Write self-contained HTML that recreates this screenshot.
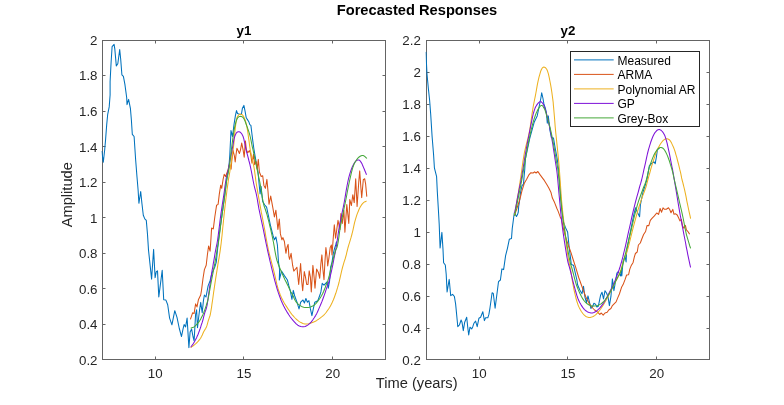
<!DOCTYPE html>
<html><head><meta charset="utf-8"><style>
html,body{margin:0;padding:0;background:#fff;width:784px;height:405px;overflow:hidden}
svg{display:block}
text{font-family:'Liberation Sans', Arial, Helvetica, sans-serif}
.tk{font-size:13.33px;fill:#262626}
.ttl{font-size:14.67px;font-weight:bold;fill:#000}
.st{font-size:13.33px;font-weight:bold;fill:#000}
.lbl{font-size:14.67px;fill:#262626}
.lg{font-size:12px;fill:#000}
</style></head><body>
<svg width="784" height="405" viewBox="0 0 784 405">
<defs><clipPath id="c1"><rect x="101.5" y="39.5" width="285.0" height="321.0"/></clipPath><clipPath id="c2"><rect x="425.5" y="39.5" width="285.0" height="321.0"/></clipPath></defs>
<rect x="102.5" y="40.5" width="283.0" height="319.0" fill="none" stroke="#646464" stroke-width="1"/>
<line x1="155.5" y1="359.5" x2="155.5" y2="356.5" stroke="#646464"/>
<line x1="155.5" y1="40.5" x2="155.5" y2="43.5" stroke="#646464"/>
<text x="155.25" y="378.3" text-anchor="middle" class="tk">10</text>
<line x1="243.5" y1="359.5" x2="243.5" y2="356.5" stroke="#646464"/>
<line x1="243.5" y1="40.5" x2="243.5" y2="43.5" stroke="#646464"/>
<text x="244.00" y="378.3" text-anchor="middle" class="tk">15</text>
<line x1="332.5" y1="359.5" x2="332.5" y2="356.5" stroke="#646464"/>
<line x1="332.5" y1="40.5" x2="332.5" y2="43.5" stroke="#646464"/>
<text x="332.75" y="378.3" text-anchor="middle" class="tk">20</text>
<line x1="102.5" y1="359.5" x2="105.5" y2="359.5" stroke="#646464"/>
<line x1="385.5" y1="359.5" x2="382.5" y2="359.5" stroke="#646464"/>
<text x="97.5" y="364.8" text-anchor="end" class="tk">0.2</text>
<line x1="102.5" y1="324.5" x2="105.5" y2="324.5" stroke="#646464"/>
<line x1="385.5" y1="324.5" x2="382.5" y2="324.5" stroke="#646464"/>
<text x="97.5" y="329.2" text-anchor="end" class="tk">0.4</text>
<line x1="102.5" y1="288.5" x2="105.5" y2="288.5" stroke="#646464"/>
<line x1="385.5" y1="288.5" x2="382.5" y2="288.5" stroke="#646464"/>
<text x="97.5" y="293.7" text-anchor="end" class="tk">0.6</text>
<line x1="102.5" y1="253.5" x2="105.5" y2="253.5" stroke="#646464"/>
<line x1="385.5" y1="253.5" x2="382.5" y2="253.5" stroke="#646464"/>
<text x="97.5" y="258.1" text-anchor="end" class="tk">0.8</text>
<line x1="102.5" y1="217.5" x2="105.5" y2="217.5" stroke="#646464"/>
<line x1="385.5" y1="217.5" x2="382.5" y2="217.5" stroke="#646464"/>
<text x="97.5" y="222.6" text-anchor="end" class="tk">1</text>
<line x1="102.5" y1="182.5" x2="105.5" y2="182.5" stroke="#646464"/>
<line x1="385.5" y1="182.5" x2="382.5" y2="182.5" stroke="#646464"/>
<text x="97.5" y="187.0" text-anchor="end" class="tk">1.2</text>
<line x1="102.5" y1="146.5" x2="105.5" y2="146.5" stroke="#646464"/>
<line x1="385.5" y1="146.5" x2="382.5" y2="146.5" stroke="#646464"/>
<text x="97.5" y="151.5" text-anchor="end" class="tk">1.4</text>
<line x1="102.5" y1="111.5" x2="105.5" y2="111.5" stroke="#646464"/>
<line x1="385.5" y1="111.5" x2="382.5" y2="111.5" stroke="#646464"/>
<text x="97.5" y="115.9" text-anchor="end" class="tk">1.6</text>
<line x1="102.5" y1="75.5" x2="105.5" y2="75.5" stroke="#646464"/>
<line x1="385.5" y1="75.5" x2="382.5" y2="75.5" stroke="#646464"/>
<text x="97.5" y="80.4" text-anchor="end" class="tk">1.8</text>
<line x1="102.5" y1="40.5" x2="105.5" y2="40.5" stroke="#646464"/>
<line x1="385.5" y1="40.5" x2="382.5" y2="40.5" stroke="#646464"/>
<text x="97.5" y="44.8" text-anchor="end" class="tk">2</text>
<rect x="426.5" y="40.5" width="283.0" height="319.0" fill="none" stroke="#646464" stroke-width="1"/>
<line x1="479.5" y1="359.5" x2="479.5" y2="356.5" stroke="#646464"/>
<line x1="479.5" y1="40.5" x2="479.5" y2="43.5" stroke="#646464"/>
<text x="479.25" y="378.3" text-anchor="middle" class="tk">10</text>
<line x1="567.5" y1="359.5" x2="567.5" y2="356.5" stroke="#646464"/>
<line x1="567.5" y1="40.5" x2="567.5" y2="43.5" stroke="#646464"/>
<text x="568.00" y="378.3" text-anchor="middle" class="tk">15</text>
<line x1="656.5" y1="359.5" x2="656.5" y2="356.5" stroke="#646464"/>
<line x1="656.5" y1="40.5" x2="656.5" y2="43.5" stroke="#646464"/>
<text x="656.75" y="378.3" text-anchor="middle" class="tk">20</text>
<line x1="426.5" y1="359.5" x2="429.5" y2="359.5" stroke="#646464"/>
<line x1="709.5" y1="359.5" x2="706.5" y2="359.5" stroke="#646464"/>
<text x="420.8" y="364.8" text-anchor="end" class="tk">0.2</text>
<line x1="426.5" y1="328.5" x2="429.5" y2="328.5" stroke="#646464"/>
<line x1="709.5" y1="328.5" x2="706.5" y2="328.5" stroke="#646464"/>
<text x="420.8" y="332.8" text-anchor="end" class="tk">0.4</text>
<line x1="426.5" y1="296.5" x2="429.5" y2="296.5" stroke="#646464"/>
<line x1="709.5" y1="296.5" x2="706.5" y2="296.5" stroke="#646464"/>
<text x="420.8" y="300.8" text-anchor="end" class="tk">0.6</text>
<line x1="426.5" y1="264.5" x2="429.5" y2="264.5" stroke="#646464"/>
<line x1="709.5" y1="264.5" x2="706.5" y2="264.5" stroke="#646464"/>
<text x="420.8" y="268.8" text-anchor="end" class="tk">0.8</text>
<line x1="426.5" y1="232.5" x2="429.5" y2="232.5" stroke="#646464"/>
<line x1="709.5" y1="232.5" x2="706.5" y2="232.5" stroke="#646464"/>
<text x="420.8" y="236.8" text-anchor="end" class="tk">1</text>
<line x1="426.5" y1="200.5" x2="429.5" y2="200.5" stroke="#646464"/>
<line x1="709.5" y1="200.5" x2="706.5" y2="200.5" stroke="#646464"/>
<text x="420.8" y="204.8" text-anchor="end" class="tk">1.2</text>
<line x1="426.5" y1="168.5" x2="429.5" y2="168.5" stroke="#646464"/>
<line x1="709.5" y1="168.5" x2="706.5" y2="168.5" stroke="#646464"/>
<text x="420.8" y="172.8" text-anchor="end" class="tk">1.4</text>
<line x1="426.5" y1="136.5" x2="429.5" y2="136.5" stroke="#646464"/>
<line x1="709.5" y1="136.5" x2="706.5" y2="136.5" stroke="#646464"/>
<text x="420.8" y="140.8" text-anchor="end" class="tk">1.6</text>
<line x1="426.5" y1="104.5" x2="429.5" y2="104.5" stroke="#646464"/>
<line x1="709.5" y1="104.5" x2="706.5" y2="104.5" stroke="#646464"/>
<text x="420.8" y="108.8" text-anchor="end" class="tk">1.8</text>
<line x1="426.5" y1="72.5" x2="429.5" y2="72.5" stroke="#646464"/>
<line x1="709.5" y1="72.5" x2="706.5" y2="72.5" stroke="#646464"/>
<text x="420.8" y="76.8" text-anchor="end" class="tk">2</text>
<line x1="426.5" y1="40.5" x2="429.5" y2="40.5" stroke="#646464"/>
<line x1="709.5" y1="40.5" x2="706.5" y2="40.5" stroke="#646464"/>
<text x="420.8" y="44.8" text-anchor="end" class="tk">2.2</text>
<polyline points="101.8,151.0 103.3,162.2 104.7,149.8 105.6,139.4 106.7,124.6 107.7,114.3 109.2,106.9 110.1,95.0 110.1,81.5 111.1,62.2 112.1,46.7 114.1,44.4 114.8,48.9 116.3,65.9 117.8,63.7 119.7,49.6 120.7,59.3 121.9,74.8 123.4,76.3 124.9,84.4 126.7,97.8 127.0,104.6 128.6,99.4 130.4,108.3 131.4,120.2 132.3,134.3 134.1,136.5 135.6,159.3 137.0,177.0 138.1,190.0 138.9,203.3 140.7,191.5 141.9,203.3 143.3,215.2 144.8,218.9 146.3,220.4 147.5,234.4 148.5,250.0 151.6,279.1 153.6,249.4 155.1,277.6 156.3,271.7 157.5,270.9 158.8,296.9 162.2,270.2 163.7,299.8 165.9,300.1 167.7,304.8 169.6,318.1 171.9,324.8 174.8,310.7 177.0,317.4 179.3,328.5 181.5,336.5 183.0,329.1 184.1,324.6 185.6,326.9 187.1,318.0 188.9,347.6 190.1,332.0 191.6,329.1 193.0,336.5 194.1,340.9 195.6,314.3 196.6,309.8 197.5,327.6 198.5,318.7 199.6,309.8 200.7,302.4 202.2,312.8 203.4,300.9 204.4,295.0 206.0,297.0 208.1,285.9 210.0,281.0 212.0,273.0 214.8,267.0 216.3,262.2 218.5,240.0 221.9,215.6 224.8,195.0 226.7,180.0 228.9,167.0 229.8,155.0 231.0,130.6 232.5,136.5 234.0,124.6 235.4,115.7 236.5,110.6 237.5,113.5 239.4,114.3 241.4,114.3 242.4,108.3 243.9,105.4 245.1,111.3 246.1,117.2 247.3,119.4 248.8,121.7 249.8,124.6 250.9,125.4 251.7,132.0 252.8,140.9 253.8,148.3 255.0,155.7 258.0,172.0 259.2,185.0 260.1,193.9 261.1,186.5 262.6,201.3 264.8,205.0 266.6,207.2 268.5,216.1 270.7,226.5 273.0,235.4 274.4,239.8 275.9,236.9 277.4,245.0 278.5,262.2 279.6,269.6 279.3,280.0 281.5,271.1 284.4,275.6 287.4,280.0 288.9,285.9 290.4,291.1 291.9,299.3 293.3,290.4 294.8,296.3 297.0,302.2 299.0,308.9 300.7,302.2 303.0,300.0 304.4,303.0 305.9,298.5 307.4,302.2 308.9,300.7 310.4,308.9 311.9,315.6 313.3,308.9 314.8,302.2 317.8,300.7 320.0,294.8 320.9,291.9 322.2,283.3 324.0,285.1 325.6,283.3 327.1,282.0 328.3,288.2 329.6,280.8 330.6,267.2 332.0,262.3 333.3,253.6 334.5,248.7 335.7,245.0 336.6,241.5" fill="none" stroke="#0072BD" stroke-width="1.05" stroke-linejoin="round" clip-path="url(#c1)"/>
<polyline points="425.9,51.9 427.0,74.0 428.4,88.9 429.6,100.0 430.7,114.3 432.1,136.5 433.6,155.0 434.4,167.8 436.6,176.7 437.3,191.5 438.4,210.0 439.2,224.3 440.1,248.0 441.9,232.4 443.0,249.4 443.6,262.8 445.3,265.0 446.2,274.3 447.1,292.0 449.2,279.4 450.7,295.7 452.6,294.3 454.4,296.5 455.6,303.9 456.1,308.9 457.8,326.7 459.4,325.0 461.1,320.0 462.0,322.2 463.3,330.6 464.7,322.2 466.7,317.2 467.8,327.8 468.7,335.0 470.0,327.2 471.7,328.9 472.8,326.7 473.9,323.3 475.6,321.1 477.2,326.7 478.9,318.3 480.6,317.2 482.8,311.7 484.4,320.6 485.6,317.8 487.8,317.8 488.9,314.4 490.0,307.8 491.1,300.0 492.1,292.8 493.3,293.5 495.1,308.3 497.0,293.5 498.5,281.7 500.4,280.0 501.9,268.9 503.6,269.6 505.6,255.6 507.5,248.1 509.3,239.3 511.5,238.5 512.2,228.9 512.8,224.3 514.3,212.8 516.5,216.5 517.6,214.3 518.3,212.0 518.7,206.1 519.1,204.1 520.6,192.2 522.0,185.6 523.5,184.1 524.0,177.4 524.7,170.0 525.4,158.9 529.8,138.1 534.3,121.9 537.2,115.9 539.4,105.4 540.9,98.0 541.7,92.8 542.9,98.0 543.9,103.9 545.4,108.3 546.4,113.0 547.3,123.3 548.3,115.9 549.8,129.3 551.3,137.4 553.5,138.1 555.0,147.0 557.2,158.9 558.7,170.0 559.5,180.0 561.0,200.0 562.5,215.0 563.5,222.0 565.4,227.4 567.6,231.9 569.1,246.7 571.3,264.4 573.5,265.2 575.7,274.8 576.9,280.0 577.6,284.8 579.8,290.0 582.0,293.7 583.5,286.3 585.0,297.4 586.5,302.6 588.0,295.9 589.4,301.9 590.9,308.5 592.4,307.0 593.9,303.3 595.4,304.1 596.9,307.0 598.3,306.3 600.6,295.2 602.0,292.2 603.5,298.9 605.0,290.7 606.5,293.0 608.0,296.7 609.4,305.6 610.9,296.7 612.4,278.9 613.9,290.7 615.4,281.9 616.9,273.0 618.3,271.5 620.6,275.9 621.3,270.0 621.8,276.0 623.0,262.0 625.0,256.0 626.1,262.0 626.6,252.0 629.3,237.4 633.7,215.2 635.5,207.8 637.4,212.2 639.6,216.7 640.4,204.8 643.0,192.0 645.0,186.0 647.0,179.3 649.3,165.9 651.5,163.7 653.7,161.5 655.2,163.7 656.4,157.0 657.4,149.6 659.5,148.0" fill="none" stroke="#0072BD" stroke-width="1.05" stroke-linejoin="round" clip-path="url(#c2)"/>
<polyline points="190.4,319.4 192.6,312.8 194.1,313.5 195.6,303.9 197.0,306.9 198.5,299.4 200.7,295.0 201.5,290.4 203.0,278.5 204.4,269.6 206.2,265.2 207.4,254.8 208.6,246.0 210.1,251.1 211.0,238.0 211.6,228.1 213.3,228.9 214.8,217.0 216.6,205.2 218.1,204.4 219.3,194.1 220.7,185.2 221.7,188.3 223.1,179.4 224.2,174.3 225.6,176.5 228.2,169.5 229.6,163.9 231.1,169.1 231.9,159.4 233.1,150.5 234.4,156.0 235.2,162.0 235.9,155.7 236.9,148.3 238.4,151.3 239.4,153.5 240.5,149.8 241.7,143.1 243.1,149.8 244.2,157.2 245.4,140.9 246.4,149.8 247.6,152.8 249.4,150.6 250.6,153.5 252.0,163.1 253.5,154.3 254.7,164.6 256.2,161.7 257.2,169.1 258.3,159.4 259.4,172.0 261.2,176.5 262.7,175.7 263.9,185.4 265.4,188.3 266.9,179.4 268.0,191.3 269.0,204.3 270.7,196.1 273.0,208.7 274.4,216.9 275.9,210.2 277.9,229.4 279.3,219.1 280.4,233.9 281.9,239.8 282.9,237.6 284.4,241.5 285.9,253.3 287.0,247.4 288.1,244.4 288.9,256.3 289.6,259.3 291.1,253.3 292.6,265.2 293.8,271.1 295.0,269.7 296.9,267.2 298.7,284.5 300.6,263.5 301.8,282.0 302.7,290.7 304.3,271.5 305.5,277.1 306.7,284.5 308.0,284.5 309.2,270.9 310.4,277.1 311.3,291.9 312.9,265.4 314.1,277.1 315.0,288.2 316.6,269.1 318.5,272.8 319.7,278.3 320.9,263.5 321.9,254.9 322.8,268.5 324.0,279.6 324.9,262.3 325.9,247.5 327.1,257.3 327.7,266.0 329.0,257.3 330.2,247.5 331.4,245.0 332.0,254.9 333.1,240.0 334.3,224.7 335.6,238.3 338.0,220.3 339.9,229.6 340.9,213.5 342.3,223.4 343.9,210.5 344.9,232.3 346.8,204.6 348.8,223.4 349.8,199.6 351.4,205.5 352.8,194.7 354.2,202.6 355.7,178.8 357.1,206.5 358.7,182.8 359.7,170.9 360.9,187.7 361.7,197.6 363.3,179.8 364.7,178.8 365.6,183.8 366.8,196.6" fill="none" stroke="#D95319" stroke-width="1.05" stroke-linejoin="round" clip-path="url(#c1)"/>
<polyline points="514.3,215.7 516.9,208.5 519.8,199.6 522.0,190.7 524.3,183.3 526.5,179.6 528.7,175.2 530.9,172.7 533.1,173.0 534.6,171.8 536.1,173.0 537.9,171.5 539.8,174.4 542.0,177.4 544.3,180.4 546.5,184.1 548.7,187.8 550.9,192.2 552.4,198.1 554.6,202.6 556.9,208.5 558.0,210.9 560.2,216.9 561.7,220.0 563.2,228.0 565.4,236.3 568.3,245.2 571.0,252.6 572.8,258.5 575.7,267.4 578.7,277.5 581.3,284.8 583.5,290.7 585.7,296.7 588.7,302.6 591.7,307.0 594.6,310.0 597.6,312.2 599.8,314.4 601.3,313.0 603.2,315.2 605.0,313.0 607.2,312.2 608.7,310.0 610.9,308.5 612.4,305.6 614.6,303.3 616.1,301.9 617.6,298.1 619.4,294.0 621.7,286.9 623.1,284.6 625.1,279.4 626.6,275.0 628.6,274.7 629.8,269.1 631.3,265.4 633.1,262.4 634.3,257.2 635.4,253.5 637.2,252.0 638.4,245.0 640.3,243.0 641.8,239.0 643.6,234.5 645.6,231.5 647.0,225.6 648.8,225.6 650.3,220.4 652.2,218.1 654.4,215.9 656.7,213.0 658.6,214.4 660.1,208.5 661.6,212.2 663.0,207.8 664.5,209.3 666.3,209.3 668.5,207.8 669.8,209.8 671.0,212.8 672.8,209.4 674.0,214.3 675.7,213.8 677.2,215.0 678.7,218.0 679.9,220.9 681.4,219.4 682.4,225.4 683.9,228.3 685.4,225.4 686.4,229.8 688.3,232.0 689.6,234.2" fill="none" stroke="#D95319" stroke-width="1.05" stroke-linejoin="round" clip-path="url(#c2)"/>
<polyline points="190.7,347.6 191.6,346.9 192.9,346.0 194.4,344.9 195.8,343.7 197.1,342.5 198.3,341.1 199.5,339.7 200.6,338.2 201.5,336.6 202.3,335.0 203.0,333.3 203.7,331.8 204.4,330.5 205.1,329.4 205.8,328.3 206.4,327.0 207.0,325.4 207.5,323.6 208.0,321.7 208.5,320.0 209.0,318.6 209.4,317.4 209.9,316.0 210.4,314.0 210.9,311.1 211.5,307.6 212.0,303.8 212.6,300.0 213.1,296.3 213.6,292.5 214.2,288.6 214.8,284.4 215.5,279.7 216.3,274.7 217.1,269.7 217.8,265.2 218.4,261.4 219.0,258.1 219.5,255.0 220.0,251.9 220.4,249.1 220.7,246.6 221.1,243.8 221.5,240.0 222.1,234.7 222.7,228.3 223.4,221.7 224.0,215.6 224.6,210.1 225.2,204.7 225.8,199.7 226.4,195.0 226.9,190.7 227.5,186.7 228.0,183.1 228.4,180.0 228.7,177.9 229.0,176.6 229.3,175.0 229.8,172.0 230.6,166.6 231.7,159.6 232.7,152.5 233.5,146.9 233.9,143.5 234.0,141.5 234.1,139.7 234.3,137.0 234.8,132.9 235.3,127.9 235.9,123.1 236.5,119.5 237.1,117.4 237.6,116.2 238.2,115.6 238.7,115.0 239.2,114.5 239.8,114.3 240.3,114.2 240.9,114.3 241.4,114.4 242.0,114.6 242.5,115.0 243.1,115.7 243.7,116.7 244.3,117.9 244.9,119.3 245.4,120.9 245.9,122.7 246.4,124.7 246.9,126.8 247.3,129.1 247.7,131.5 248.1,134.1 248.4,136.8 248.8,139.4 249.2,142.1 249.5,144.8 249.9,147.5 250.3,150.0 250.7,152.1 251.1,154.0 251.5,155.8 252.0,158.0 252.5,160.4 253.1,163.1 253.7,165.9 254.3,169.1 254.8,172.6 255.3,176.4 255.8,180.5 256.5,185.0 257.4,190.2 258.4,195.9 259.4,201.7 260.4,207.2 261.3,212.2 262.3,217.1 263.2,221.8 264.1,226.5 265.0,231.4 265.8,236.3 266.7,241.0 267.4,245.0 268.0,247.9 268.4,249.9 268.9,252.0 269.6,254.8 270.6,258.7 271.8,263.3 273.1,268.1 274.2,272.6 275.2,276.8 276.1,280.9 277.0,284.9 278.0,288.5 279.1,291.8 280.3,294.9 281.5,297.7 282.8,300.3 284.1,302.7 285.4,304.9 286.7,306.9 288.0,308.9 289.3,310.8 290.5,312.6 291.8,314.3 293.2,315.9 294.6,317.5 296.1,319.0 297.7,320.4 299.3,321.6 301.0,322.6 302.9,323.4 304.8,323.9 306.7,324.1 308.8,323.8 311.0,323.1 313.1,322.2 314.9,321.4 316.4,320.7 317.5,319.9 318.6,319.2 319.8,318.3 321.0,317.4 322.3,316.4 323.6,315.3 324.8,314.0 326.1,312.5 327.3,310.8 328.6,309.0 329.7,307.2 330.7,305.4 331.7,303.6 332.5,301.8 333.4,299.8 334.2,297.7 335.0,295.5 335.8,293.3 336.5,291.1 337.1,289.1 337.7,287.2 338.3,285.1 339.0,282.5 339.8,279.1 340.7,275.1 341.6,271.1 342.5,267.5 343.4,264.4 344.2,261.6 345.1,259.0 345.8,256.5 346.4,254.3 346.8,252.4 347.3,250.5 347.9,248.0 348.8,244.9 349.9,241.4 351.0,237.7 352.0,234.0 352.9,230.3 353.7,226.6 354.5,222.9 355.4,219.6 356.3,216.6 357.2,213.9 358.2,211.5 359.1,209.3 360.0,207.4 361.0,205.8 361.9,204.4 362.8,203.3 363.8,202.4 364.9,201.8 365.8,201.4 366.5,201.1" fill="none" stroke="#EDB120" stroke-width="1.05" stroke-linejoin="round" clip-path="url(#c1)"/>
<polyline points="514.3,215.7 515.0,212.0 515.9,206.8 517.0,200.8 518.0,195.0 518.9,189.3 519.8,183.5 520.7,177.6 521.5,172.0 522.2,166.7 522.9,161.7 523.7,156.8 524.5,152.0 525.6,147.3 526.8,142.7 528.0,138.2 529.0,133.7 529.9,129.0 530.6,124.3 531.2,119.8 531.8,115.9 532.2,112.9 532.6,110.6 532.9,108.5 533.3,106.0 533.9,103.1 534.5,100.0 535.2,96.7 535.8,93.5 536.4,90.2 537.0,86.7 537.6,83.3 538.3,80.2 539.0,77.2 539.8,74.3 540.5,71.8 541.3,69.8 542.0,68.4 542.8,67.5 543.5,67.1 544.3,67.1 545.1,67.5 545.9,68.2 546.8,69.4 547.6,71.3 548.4,73.9 549.2,77.3 549.9,81.0 550.6,84.6 551.2,88.2 551.8,92.0 552.3,95.8 552.8,99.4 553.2,102.5 553.4,105.4 553.7,108.4 554.0,112.0 554.4,116.5 554.8,121.5 555.2,126.8 555.7,132.2 556.3,137.8 556.9,143.6 557.5,149.3 558.0,154.4 558.4,158.4 558.7,161.6 559.0,165.1 559.4,170.0 559.9,177.1 560.5,185.5 561.1,194.2 561.7,202.0 562.3,208.2 562.9,213.7 563.5,219.0 564.2,225.0 565.0,232.1 565.9,239.9 566.7,247.5 567.6,254.1 568.4,259.3 569.3,263.5 570.1,267.4 570.9,271.5 571.6,276.0 572.3,280.5 573.1,284.9 573.9,289.3 574.9,293.6 575.9,298.0 577.1,302.0 578.3,305.6 579.7,308.6 581.2,311.3 582.8,313.5 584.3,315.2 585.8,316.4 587.3,317.1 588.7,317.4 590.2,317.4 591.7,317.1 593.2,316.5 594.6,315.6 596.1,314.4 597.6,312.9 599.0,311.2 600.5,309.2 602.0,307.0 603.5,304.7 605.0,302.1 606.5,299.5 608.0,296.7 609.5,293.8 611.0,290.8 612.4,287.8 613.9,284.8 615.4,281.8 617.0,278.9 618.5,276.0 619.8,273.0 620.9,270.0 621.8,266.9 622.6,263.9 623.5,261.0 624.4,258.5 625.3,256.3 626.3,253.7 627.5,250.0 628.9,244.8 630.5,238.4 632.1,231.8 633.7,225.6 635.2,220.1 636.7,214.7 638.1,209.6 639.6,204.8 641.2,200.1 642.8,195.6 644.4,191.5 645.6,188.0 646.4,185.6 646.8,183.9 647.2,182.3 647.8,180.0 648.7,176.6 649.9,172.5 651.0,168.3 652.2,164.4 653.3,160.8 654.5,157.3 655.6,154.0 656.7,151.1 657.8,148.6 659.0,146.4 660.1,144.6 661.1,143.0 662.1,141.7 663.0,140.7 663.9,139.9 664.8,139.3 665.6,138.9 666.3,138.8 667.1,138.8 667.8,139.0 668.5,139.3 669.2,139.7 669.9,140.4 670.7,141.5 671.6,143.1 672.5,145.1 673.5,147.3 674.4,149.6 675.2,152.0 675.9,154.6 676.7,157.2 677.4,160.0 678.2,163.0 679.0,166.1 679.7,169.2 680.4,171.9 680.9,174.2 681.3,176.1 681.6,177.9 682.1,180.0 682.7,182.2 683.3,184.5 683.9,187.0 684.6,189.8 685.3,193.2 686.1,196.9 686.8,200.8 687.6,204.6 688.4,208.5 689.3,212.6 690.1,216.2 690.6,218.7" fill="none" stroke="#EDB120" stroke-width="1.05" stroke-linejoin="round" clip-path="url(#c2)"/>
<polyline points="190.7,347.2 191.4,346.3 192.3,345.0 193.4,343.6 194.3,342.1 195.1,340.6 195.9,339.0 196.7,337.4 197.4,335.8 198.1,334.2 198.7,332.6 199.3,331.0 199.8,329.5 200.3,328.2 200.7,327.0 201.0,325.9 201.4,324.7 201.8,323.5 202.2,322.4 202.5,321.3 202.9,320.0 203.3,318.6 203.6,317.1 204.0,315.6 204.4,314.0 204.9,312.3 205.6,310.6 206.2,308.8 206.7,306.9 207.1,305.1 207.4,303.3 207.7,301.1 208.1,298.0 208.8,293.4 209.5,287.8 210.4,282.0 211.1,277.0 211.7,273.1 212.2,269.9 212.8,266.8 213.3,263.7 213.9,260.3 214.5,256.9 215.0,253.5 215.6,250.4 216.1,247.9 216.5,245.9 217.0,243.5 217.6,240.0 218.3,234.8 219.1,228.4 219.9,221.8 220.7,215.6 221.5,210.1 222.3,204.7 223.1,199.7 223.8,195.0 224.4,190.8 224.9,186.9 225.4,183.3 225.9,180.0 226.4,177.2 227.0,175.0 227.6,172.5 228.3,169.1 229.3,164.1 230.5,157.9 231.7,151.9 232.6,147.0 233.2,143.7 233.6,141.4 233.9,139.7 234.3,138.0 234.8,136.3 235.4,134.9 235.9,133.7 236.5,132.8 237.1,132.2 237.6,131.9 238.2,131.7 238.7,131.7 239.2,131.8 239.8,132.0 240.3,132.3 240.9,132.8 241.5,133.5 242.0,134.3 242.6,135.4 243.1,136.5 243.5,137.8 243.9,139.2 244.2,140.8 244.6,142.4 245.0,144.1 245.3,145.9 245.7,147.8 246.1,149.8 246.6,152.0 247.3,154.3 247.9,156.7 248.5,159.0 249.0,161.0 249.5,162.8 250.0,164.8 250.6,167.6 251.4,171.5 252.3,176.2 253.2,181.0 254.0,185.0 254.7,187.9 255.3,190.2 255.9,192.4 256.5,195.0 257.1,198.0 257.6,201.2 258.2,204.7 258.9,208.7 259.9,213.5 261.1,219.1 262.3,224.6 263.3,229.4 264.1,233.3 264.8,236.8 265.4,239.9 266.0,243.0 266.7,246.1 267.3,249.0 267.9,251.8 268.6,254.8 269.3,257.8 269.9,260.7 270.7,263.8 271.5,267.3 272.5,271.3 273.6,275.8 274.7,280.4 275.9,284.7 277.1,288.8 278.4,292.9 279.8,296.8 281.1,300.3 282.4,303.3 283.7,306.0 285.0,308.4 286.3,310.7 287.6,312.9 288.8,314.8 290.1,316.7 291.5,318.5 293.0,320.4 294.6,322.2 296.2,323.9 297.8,325.2 299.3,326.0 300.8,326.6 302.2,326.8 303.7,326.7 305.2,326.4 306.6,325.8 308.1,324.9 309.6,323.7 311.1,322.1 312.7,320.0 314.2,317.8 315.6,315.6 316.8,313.4 317.8,311.2 318.8,308.9 319.8,306.6 320.8,304.3 321.8,301.9 322.7,299.5 323.5,297.3 324.2,295.3 324.8,293.6 325.4,291.8 326.0,289.9 326.7,287.9 327.5,285.9 328.2,283.8 329.0,281.3 329.8,278.4 330.5,275.1 331.3,271.8 332.0,268.5 332.7,265.3 333.3,262.1 333.9,258.9 334.5,256.0 335.0,253.6 335.4,251.6 335.8,249.3 336.4,246.0 337.1,241.4 337.9,235.8 338.8,229.9 339.8,224.1 340.9,218.5 342.1,212.7 343.3,207.2 344.3,202.0 345.1,197.3 345.8,192.9 346.5,188.8 347.2,185.0 347.9,181.5 348.6,178.3 349.4,175.3 350.2,172.6 351.1,170.0 352.0,167.6 353.0,165.5 353.9,163.7 354.8,162.3 355.8,161.2 356.7,160.4 357.6,160.0 358.4,159.9 359.2,160.1 359.9,160.7 360.6,161.5 361.3,162.6 362.1,164.1 362.8,165.7 363.5,167.4 364.3,169.3 365.2,171.5 366.0,173.4 366.5,174.8" fill="none" stroke="#7E12D8" stroke-width="1.05" stroke-linejoin="round" clip-path="url(#c1)"/>
<polyline points="514.6,213.0 515.3,209.4 516.3,204.3 517.3,198.7 518.3,193.7 519.1,189.5 519.9,185.6 520.7,182.1 521.3,178.9 521.7,176.5 522.0,174.8 522.3,172.9 522.8,170.0 523.5,165.8 524.3,160.7 525.2,155.2 526.1,150.0 527.0,145.1 527.9,140.2 528.9,135.4 529.8,130.7 530.7,125.9 531.7,121.1 532.6,116.7 533.5,113.0 534.3,110.3 535.0,108.3 535.7,106.8 536.5,105.4 537.4,104.1 538.4,102.9 539.3,102.1 540.2,101.7 541.0,101.7 541.7,102.2 542.4,103.0 543.1,103.9 543.7,105.1 544.3,106.7 544.9,108.3 545.4,109.8 545.8,111.0 546.1,112.2 546.4,113.4 546.8,115.0 547.3,117.0 547.9,119.3 548.5,121.9 549.1,124.8 549.8,128.0 550.5,131.6 551.3,135.5 552.0,139.6 552.8,144.2 553.5,149.2 554.3,154.2 555.0,158.9 555.6,163.0 556.2,166.7 556.8,170.6 557.3,175.0 557.8,180.2 558.3,185.8 558.8,191.8 559.4,198.0 560.0,204.4 560.6,210.9 561.3,217.8 562.1,225.0 563.2,233.1 564.5,241.9 565.8,250.2 566.9,257.0 567.8,261.5 568.6,264.6 569.4,267.1 570.2,270.0 571.1,273.6 572.0,277.3 572.9,281.1 573.9,284.8 574.9,288.6 576.0,292.5 577.1,296.3 578.3,299.6 579.7,302.5 581.2,305.1 582.7,307.4 584.3,309.3 585.9,310.8 587.6,311.9 589.3,312.6 590.9,313.0 592.4,312.9 593.9,312.5 595.4,311.7 596.9,310.7 598.4,309.4 599.9,307.9 601.3,306.1 602.8,304.1 604.3,301.8 605.8,299.1 607.3,296.4 608.7,293.7 610.1,291.1 611.4,288.6 612.7,286.0 613.9,283.3 615.1,280.5 616.2,277.6 617.3,274.8 618.3,272.0 619.2,269.5 620.0,267.0 620.7,264.6 621.5,262.0 622.2,259.4 622.9,256.7 623.6,253.7 624.5,250.0 625.6,245.3 626.8,239.9 628.0,234.1 629.3,228.5 630.6,222.9 631.8,217.2 633.1,211.6 634.4,206.3 635.7,201.2 637.0,196.3 638.3,191.8 639.3,188.0 640.0,185.4 640.6,183.7 641.0,182.2 641.6,180.0 642.3,177.0 643.1,173.5 643.9,169.7 644.8,165.9 645.7,161.9 646.6,157.7 647.5,153.5 648.5,149.6 649.6,145.9 650.7,142.3 651.9,139.0 653.0,136.3 654.0,134.3 654.9,132.7 655.9,131.6 656.7,130.7 657.5,130.0 658.2,129.7 658.9,129.5 659.6,129.6 660.3,129.9 661.1,130.3 661.8,131.0 662.6,131.9 663.4,133.0 664.1,134.3 664.9,135.8 665.6,137.8 666.3,140.3 667.1,143.1 667.8,146.3 668.5,149.6 669.3,153.2 670.1,157.1 670.8,160.9 671.5,164.4 672.0,167.1 672.5,169.2 672.9,171.6 673.5,175.0 674.3,179.8 675.3,185.6 676.3,191.6 677.2,197.2 678.0,202.2 678.8,206.9 679.6,211.6 680.5,216.5 681.5,221.9 682.6,227.7 683.7,233.4 684.7,238.5 685.6,243.0 686.3,247.1 687.1,250.9 687.8,254.6 688.6,258.4 689.4,262.1 690.1,265.3 690.6,267.5" fill="none" stroke="#7E12D8" stroke-width="1.05" stroke-linejoin="round" clip-path="url(#c2)"/>
<polyline points="190.7,328.3 191.4,328.0 192.4,327.6 193.5,327.2 194.5,326.6 195.3,325.9 196.0,325.2 196.7,324.4 197.4,323.6 198.0,322.9 198.5,322.3 199.1,321.6 199.8,320.5 200.7,318.9 201.7,317.0 202.8,314.9 203.7,312.8 204.5,310.6 205.3,308.3 206.1,306.0 206.7,303.9 207.2,302.3 207.6,301.0 208.0,299.5 208.5,297.0 209.2,293.1 210.1,288.2 211.0,283.1 211.9,278.5 212.7,274.5 213.4,270.8 214.1,267.2 214.8,263.7 215.4,260.2 216.0,256.8 216.5,253.5 217.0,250.4 217.4,247.9 217.8,245.9 218.3,243.5 218.8,240.0 219.5,234.8 220.3,228.4 221.1,221.8 221.9,215.6 222.7,210.1 223.4,204.7 224.2,199.7 224.8,195.0 225.3,190.8 225.8,187.0 226.2,183.4 226.7,180.0 227.3,176.9 227.9,174.1 228.5,171.1 229.1,167.6 229.7,163.2 230.3,158.1 231.0,152.9 231.6,148.0 232.2,143.3 232.8,138.7 233.4,134.4 234.0,130.6 234.6,127.3 235.3,124.5 235.9,122.1 236.5,120.2 237.1,118.8 237.6,117.9 238.1,117.4 238.7,116.9 239.3,116.5 240.0,116.4 240.7,116.3 241.4,116.5 242.0,116.7 242.6,117.1 243.2,117.7 243.9,118.7 244.6,120.1 245.4,122.0 246.1,124.0 246.9,126.1 247.6,128.2 248.4,130.4 249.1,132.6 249.8,135.0 250.4,137.5 251.0,140.2 251.5,142.9 252.0,145.4 252.4,147.3 252.8,148.9 253.2,150.7 253.8,153.5 254.7,157.8 255.8,163.2 257.0,168.7 258.0,173.5 258.8,177.3 259.5,180.5 260.1,183.6 260.7,187.0 261.3,190.9 261.9,195.0 262.6,199.1 263.3,202.8 264.1,206.0 265.1,208.8 266.0,211.5 267.0,214.6 267.9,218.1 268.9,221.9 269.8,225.8 270.7,229.4 271.4,232.6 272.1,235.6 272.7,238.7 273.4,242.0 274.1,245.9 274.8,250.1 275.6,254.3 276.3,257.8 277.0,260.5 277.7,262.6 278.4,264.5 279.3,266.7 280.3,269.2 281.4,271.8 282.6,274.5 283.7,277.0 284.8,279.4 286.0,281.8 287.1,284.0 288.1,285.9 288.8,287.5 289.4,288.8 289.9,289.9 290.4,291.0 290.9,292.0 291.4,292.8 291.9,293.6 292.6,294.8 293.4,296.5 294.2,298.5 295.2,300.5 296.3,302.2 297.6,303.6 299.1,304.9 300.7,305.9 302.2,306.7 303.7,307.2 305.1,307.5 306.6,307.5 308.1,307.4 309.6,307.2 311.1,306.8 312.6,306.1 314.1,305.2 315.6,303.8 317.1,302.1 318.5,300.3 319.8,298.5 320.9,296.8 321.8,295.2 322.7,293.5 323.5,291.7 324.3,289.7 325.2,287.6 325.9,285.5 326.6,283.7 327.1,282.4 327.5,281.5 327.9,280.4 328.5,278.5 329.3,275.4 330.2,271.4 331.1,267.3 332.0,263.5 332.8,260.2 333.7,257.0 334.5,254.0 335.2,251.5 335.8,249.8 336.4,248.7 337.0,247.4 337.6,245.0 338.3,241.1 339.0,236.3 339.7,231.0 340.6,225.6 341.7,220.0 342.9,214.1 344.1,208.2 345.3,202.5 346.4,197.0 347.4,191.5 348.4,186.3 349.4,181.5 350.4,177.2 351.3,173.2 352.2,169.7 353.1,166.7 354.0,164.2 355.0,162.3 356.0,160.7 356.9,159.3 357.9,158.1 358.8,157.2 359.8,156.5 360.6,156.0 361.3,155.7 362.0,155.5 362.6,155.5 363.2,155.6 363.7,155.7 364.1,156.0 364.6,156.3 365.0,156.6 365.5,157.1 366.0,157.6 366.5,158.1 366.8,158.5" fill="none" stroke="#45A83A" stroke-width="1.05" stroke-linejoin="round" clip-path="url(#c1)"/>
<polyline points="514.6,215.9 515.4,211.7 516.7,205.7 518.0,199.2 519.1,193.7 520.0,189.3 520.7,185.5 521.4,182.0 522.0,178.9 522.4,176.6 522.7,175.0 523.0,173.1 523.5,170.0 524.4,165.1 525.4,159.1 526.5,152.7 527.6,147.0 528.5,142.1 529.5,137.6 530.4,133.3 531.3,129.3 532.3,125.4 533.3,121.7 534.3,118.4 535.3,115.5 536.2,113.1 537.1,111.2 537.9,109.6 538.7,108.3 539.5,107.1 540.2,106.2 541.0,105.6 541.7,105.4 542.5,105.8 543.2,106.7 543.9,107.9 544.6,109.1 545.1,110.3 545.5,111.6 546.0,113.1 546.5,115.0 547.2,117.3 548.0,119.9 548.9,122.9 549.8,126.3 550.7,130.3 551.7,134.8 552.6,139.5 553.5,144.1 554.3,148.7 555.1,153.5 555.9,158.0 556.5,161.9 557.0,164.5 557.4,166.3 557.7,168.4 558.2,172.0 558.8,177.9 559.5,185.4 560.1,193.1 560.8,200.0 561.3,205.2 561.7,209.4 562.3,214.0 563.1,220.0 564.4,228.6 566.0,238.9 567.7,249.0 569.1,257.0 570.1,261.9 570.8,264.8 571.6,267.1 572.4,270.0 573.4,273.9 574.5,278.2 575.6,282.4 576.9,286.3 578.3,289.9 579.8,293.2 581.3,296.3 582.8,298.9 584.3,301.0 585.8,302.6 587.2,303.8 588.7,304.8 590.2,305.5 591.6,305.9 593.1,306.0 594.6,306.0 596.1,305.8 597.6,305.5 599.1,304.9 600.6,304.1 602.1,303.0 603.6,301.6 605.0,300.0 606.5,298.1 608.0,295.8 609.5,293.2 611.0,290.5 612.4,287.8 613.8,285.1 615.1,282.4 616.4,279.8 617.6,277.4 618.6,275.6 619.5,274.3 620.3,272.7 621.3,270.0 622.4,266.0 623.7,261.1 625.0,255.6 626.3,250.0 627.7,244.1 629.2,237.8 630.8,231.5 632.2,225.6 633.5,220.0 634.8,214.6 636.1,209.5 637.4,204.8 638.7,200.6 640.1,196.7 641.4,193.2 642.6,190.0 643.6,187.2 644.6,184.9 645.5,182.6 646.3,180.0 647.1,177.0 647.8,173.8 648.5,170.6 649.3,167.4 650.3,164.3 651.5,161.1 652.6,158.1 653.7,155.6 654.7,153.6 655.6,152.0 656.5,150.7 657.4,149.6 658.3,148.7 659.2,147.9 660.2,147.5 661.1,147.4 662.0,147.7 663.0,148.3 663.9,149.2 664.8,150.4 665.7,152.0 666.6,153.9 667.6,156.1 668.5,158.5 669.5,161.3 670.4,164.4 671.4,167.5 672.2,170.4 672.8,172.7 673.3,174.8 673.7,177.0 674.4,180.0 675.3,184.0 676.4,188.7 677.6,193.8 678.7,198.7 679.8,203.5 681.0,208.5 682.1,213.3 683.1,218.0 684.0,222.5 684.8,226.8 685.6,230.9 686.5,234.8 687.6,238.7 688.8,242.7 689.8,246.0 690.6,248.4" fill="none" stroke="#45A83A" stroke-width="1.05" stroke-linejoin="round" clip-path="url(#c2)"/>
<text x="244" y="34.5" text-anchor="middle" class="st">y1</text>
<text x="568" y="34.5" text-anchor="middle" class="st">y2</text>
<text x="417" y="15" text-anchor="middle" class="ttl">Forecasted Responses</text>
<text x="416.7" y="387.6" text-anchor="middle" class="lbl">Time (years)</text>
<text transform="translate(71.5,194.7) rotate(-90)" text-anchor="middle" class="lbl">Amplitude</text>
<rect x="570.5" y="51.5" width="129.0" height="75.0" fill="#fff" stroke="#262626"/>
<line x1="574" y1="59.9" x2="613.7" y2="59.9" stroke="#0072BD"/>
<text x="617.5" y="64.5" class="lg">Measured</text>
<line x1="574" y1="74.4" x2="613.7" y2="74.4" stroke="#D95319"/>
<text x="617.5" y="79.0" class="lg">ARMA</text>
<line x1="574" y1="88.9" x2="613.7" y2="88.9" stroke="#EDB120"/>
<text x="617.5" y="93.5" class="lg">Polynomial AR</text>
<line x1="574" y1="103.4" x2="613.7" y2="103.4" stroke="#7E12D8"/>
<text x="617.5" y="108.0" class="lg">GP</text>
<line x1="574" y1="117.9" x2="613.7" y2="117.9" stroke="#45A83A"/>
<text x="617.5" y="122.5" class="lg">Grey-Box</text>
</svg>
</body></html>
